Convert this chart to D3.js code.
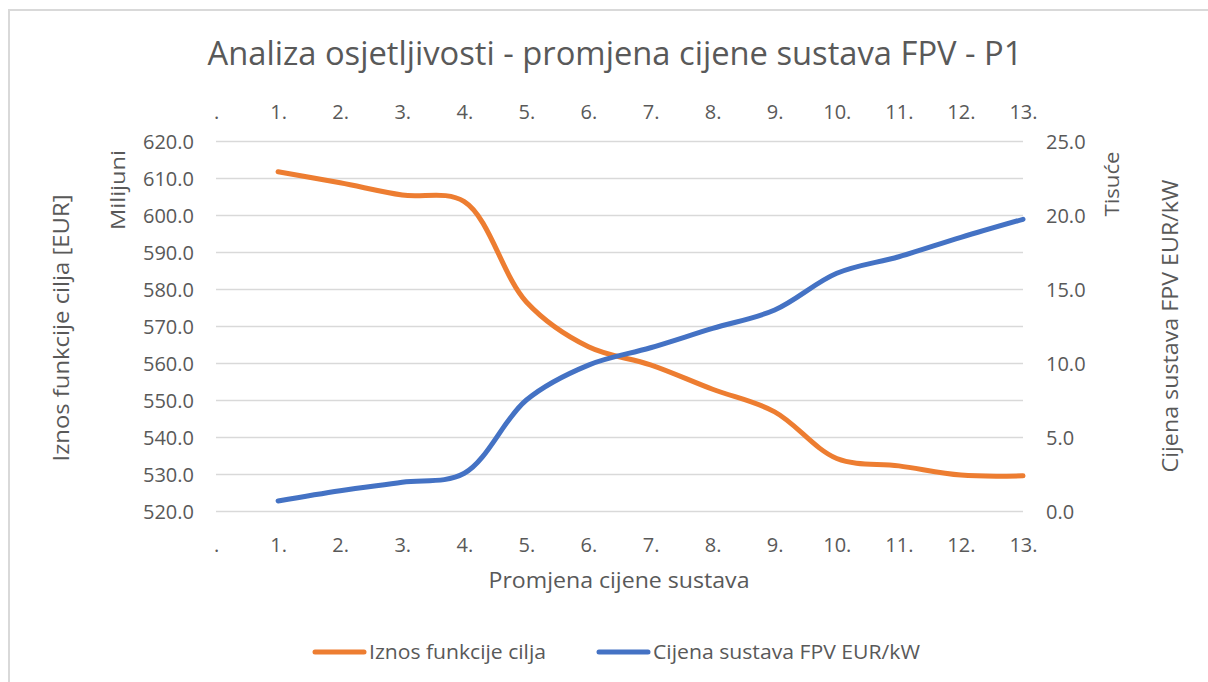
<!DOCTYPE html>
<html>
<head>
<meta charset="utf-8">
<script src="https://cdn.jsdelivr.net/npm/d3@7"></script>
<style>
  html, body { margin: 0; padding: 0; background: #fff; }
  svg text { font-family: "Open Sans", "Noto Sans", sans-serif; fill: #595959; }
</style>
</head>
<body>
<svg id="chart" width="1208" height="682"></svg>
<script>
// Categories along the x axis (first slot has no data)
const categories = [".", "1.", "2.", "3.", "4.", "5.", "6.", "7.", "8.", "9.", "10.", "11.", "12.", "13."];
const steps = ["1.", "2.", "3.", "4.", "5.", "6.", "7.", "8.", "9.", "10.", "11.", "12.", "13."];

// Objective function value, millions EUR (left axis)
const objectiveValues = [611.7, 608.7, 605.4, 603.6, 576.5, 564.4, 559.5, 552.9, 546.8, 534.2, 532.2, 529.7, 529.5];
// FPV system price, thousands EUR/kW (right axis)
const priceValues = [0.68, 1.37, 1.94, 2.55, 7.5, 9.86, 11.03, 12.34, 13.58, 16.06, 17.18, 18.49, 19.71];

const leftTicks = [520, 530, 540, 550, 560, 570, 580, 590, 600, 610, 620];
const rightTicks = [0, 5, 10, 15, 20, 25];

const seriesNames = ["Iznos funkcije cilja", "Cijena sustava FPV EUR/kW"];
const seriesColors = ["#ED7D31", "#4472C4"];

const svg = d3.select("#chart");

// chart frame
svg.append("rect")
  .attr("x", 9).attr("y", 10).attr("width", 1400).attr("height", 900)
  .attr("fill", "none").attr("stroke", "#d9d9d9").attr("stroke-width", 2);

const plot = { left: 216, right: 1023, top: 141, bottom: 511 };

const x = d3.scalePoint().domain(categories).range([plot.left, plot.right]).padding(0);
const yL = d3.scaleLinear().domain([520, 620]).range([plot.bottom, plot.top]);
const yR = d3.scaleLinear().domain([0, 25]).range([plot.bottom, plot.top]);

// gridlines
const grid = svg.append("g")
  .attr("transform", `translate(${plot.left},0)`)
  .call(d3.axisLeft(yL).tickValues(leftTicks).tickSize(-(plot.right - plot.left)).tickFormat(""));
grid.select(".domain").remove();
grid.selectAll("line").attr("stroke", "#d9d9d9").attr("stroke-width", 1.4);

// left value axis
const axL = svg.append("g")
  .attr("transform", `translate(194,0)`)
  .call(d3.axisLeft(yL).tickValues(leftTicks).tickSize(0).tickPadding(0).tickFormat(d3.format(".1f")));
axL.select(".domain").remove();
axL.selectAll("text").attr("font-size", 20).attr("dy", "0.35em");

// right value axis
const axR = svg.append("g")
  .attr("transform", `translate(1046,0)`)
  .call(d3.axisRight(yR).tickValues(rightTicks).tickSize(0).tickPadding(0).tickFormat(d3.format(".1f")));
axR.select(".domain").remove();
axR.selectAll("text").attr("font-size", 20).attr("dy", "0.35em");

// top category axis
const axT = svg.append("g")
  .attr("transform", `translate(0,112)`)
  .call(d3.axisTop(x).tickSize(0).tickPadding(0));
axT.select(".domain").remove();
axT.selectAll("text").attr("font-size", 20).attr("dy", "0.35em");

// bottom category axis
const axB = svg.append("g")
  .attr("transform", `translate(0,545)`)
  .call(d3.axisBottom(x).tickSize(0).tickPadding(0));
axB.select(".domain").remove();
axB.selectAll("text").attr("font-size", 20).attr("dy", "0.35em");

// series lines (smoothed)
const curve = d3.curveCatmullRom.alpha(0.5);
const lineL = d3.line().x((d, i) => x(steps[i])).y(d => yL(d)).curve(curve);
const lineR = d3.line().x((d, i) => x(steps[i])).y(d => yR(d)).curve(curve);

svg.append("path").datum(objectiveValues)
  .attr("d", lineL).attr("fill", "none")
  .attr("stroke", seriesColors[0]).attr("stroke-width", 5).attr("stroke-linecap", "round").attr("stroke-linejoin", "round");
svg.append("path").datum(priceValues)
  .attr("d", lineR).attr("fill", "none")
  .attr("stroke", seriesColors[1]).attr("stroke-width", 5).attr("stroke-linecap", "round").attr("stroke-linejoin", "round");

// titles
function label(text, cx, cy, size, len, rotate) {
  const t = svg.append("text")
    .attr("text-anchor", "middle")
    .attr("dy", "0.35em")
    .attr("font-size", size)
    .attr("textLength", len)
    .attr("lengthAdjust", "spacingAndGlyphs")
    .text(text);
  if (rotate) t.attr("transform", `translate(${cx},${cy}) rotate(-90)`);
  else t.attr("x", cx).attr("y", cy);
  return t;
}

label("Analiza osjetljivosti - promjena cijene sustava FPV - P1", 615, 53, 33, 815, false);
label("Promjena cijene sustava", 619, 580, 22, 261, false);
label("Iznos funkcije cilja [EUR]", 61, 328, 22, 267, true);
label("Milijuni", 118, 190, 20, 80, true);
label("Tisuće", 1112, 184, 20, 65, true);
label("Cijena sustava FPV EUR/kW", 1170, 326, 22, 293, true);

// legend
const legendItems = [
  { name: seriesNames[0], color: seriesColors[0], x0: 313, len: 177 },
  { name: seriesNames[1], color: seriesColors[1], x0: 597, len: 267 }
];
const lg = svg.append("g").selectAll("g").data(legendItems).join("g");
lg.append("line")
  .attr("x1", d => d.x0 + 2).attr("x2", d => d.x0 + 51)
  .attr("y1", 652).attr("y2", 652)
  .attr("stroke", d => d.color).attr("stroke-width", 5).attr("stroke-linecap", "round");
lg.append("text")
  .attr("x", d => d.x0 + 56).attr("y", 652).attr("dy", "0.35em")
  .attr("font-size", 20)
  .attr("textLength", d => d.len).attr("lengthAdjust", "spacingAndGlyphs")
  .text(d => d.name);
</script>
</body>
</html>
